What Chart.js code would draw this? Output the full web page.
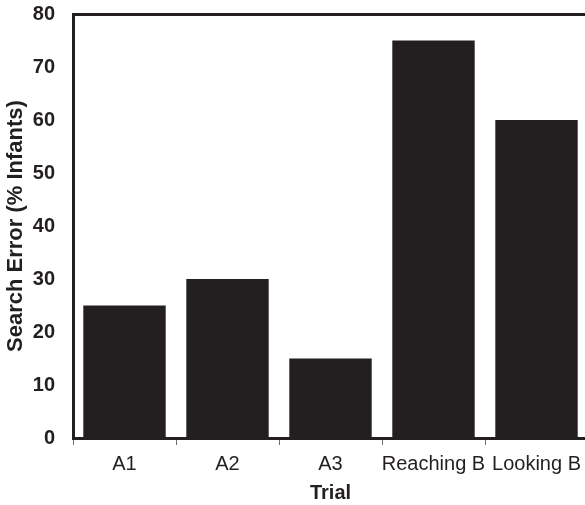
<!DOCTYPE html>
<html>
<head>
<meta charset="utf-8">
<script src="https://cdn.jsdelivr.net/npm/chart.js@4"></script>
<style>
  html, body { margin: 0; padding: 0; background: #fff; overflow: hidden; }
  #wrap { width: 590px; height: 505px; }
</style>
</head>
<body>
<div id="wrap"><canvas id="chart" width="590" height="505"></canvas></div>
<script>
const trials = ['A1', 'A2', 'A3', 'Reaching B', 'Looking B'];
const searchError = [25, 30, 15, 75, 60];
const yTicks = [0, 10, 20, 30, 40, 50, 60, 70, 80];

const ink = '#231f20';
const fontFamily = '"Liberation Sans", Arial, Helvetica, sans-serif';

const ctx = document.getElementById('chart').getContext('2d');
new Chart(ctx, {
    type: 'bar',
    data: {
        labels: trials,
        datasets: [{
            data: searchError,
            backgroundColor: ink,
            borderWidth: 0,
            categoryPercentage: 1.0,
            barPercentage: 0.8
        }]
    },
    options: {
        responsive: false,
        animation: false,
        devicePixelRatio: 1,
        layout: { padding: { left: 0, right: 2, top: 0, bottom: 0 } },
        plugins: {
            legend: { display: false },
            tooltip: { enabled: false }
        },
        scales: {
            x: {
                position: 'bottom',
                offset: true,
                grid: {
                    display: true,
                    offset: true,
                    drawOnChartArea: false,
                    drawTicks: true,
                    tickLength: 7,
                    color: '#6d6b6c',
                    lineWidth: 1
                },
                border: { display: true, color: ink, width: 3 },
                ticks: {
                    color: ink,
                    padding: 7,
                    maxRotation: 0,
                    autoSkip: false,
                    font: { family: fontFamily, size: 20 }
                },
                title: {
                    display: true,
                    text: 'Trial',
                    color: ink,
                    padding: { top: 0, bottom: 0 },
                    font: { family: fontFamily, size: 20, weight: 'bold' }
                },
                afterFit: (scale) => { scale.height = 67; }
            },
            xTop: {
                position: 'top',
                grid: { display: false },
                ticks: { display: false },
                border: { display: true, color: ink, width: 3 },
                afterFit: (scale) => { scale.height = 14; }
            },
            y: {
                min: 0,
                max: 80,
                afterBuildTicks: (scale) => {
                    scale.ticks = yTicks.map(v => ({ value: v }));
                },
                grid: { display: false },
                border: { display: true, color: ink, width: 3 },
                ticks: {
                    color: ink,
                    padding: 10,
                    font: { family: fontFamily, size: 20, weight: 'bold' }
                },
                title: {
                    display: true,
                    text: 'Search Error (% Infants)',
                    color: ink,
                    padding: { top: 3, bottom: 0 },
                    font: { family: fontFamily, size: 22, weight: 'bold' }
                },
                afterFit: (scale) => {
                    scale.width = 73;
                    scale.paddingTop = 0;
                    scale.paddingBottom = 0;
                }
            }
        }
    }
});
</script>
</body>
</html>
